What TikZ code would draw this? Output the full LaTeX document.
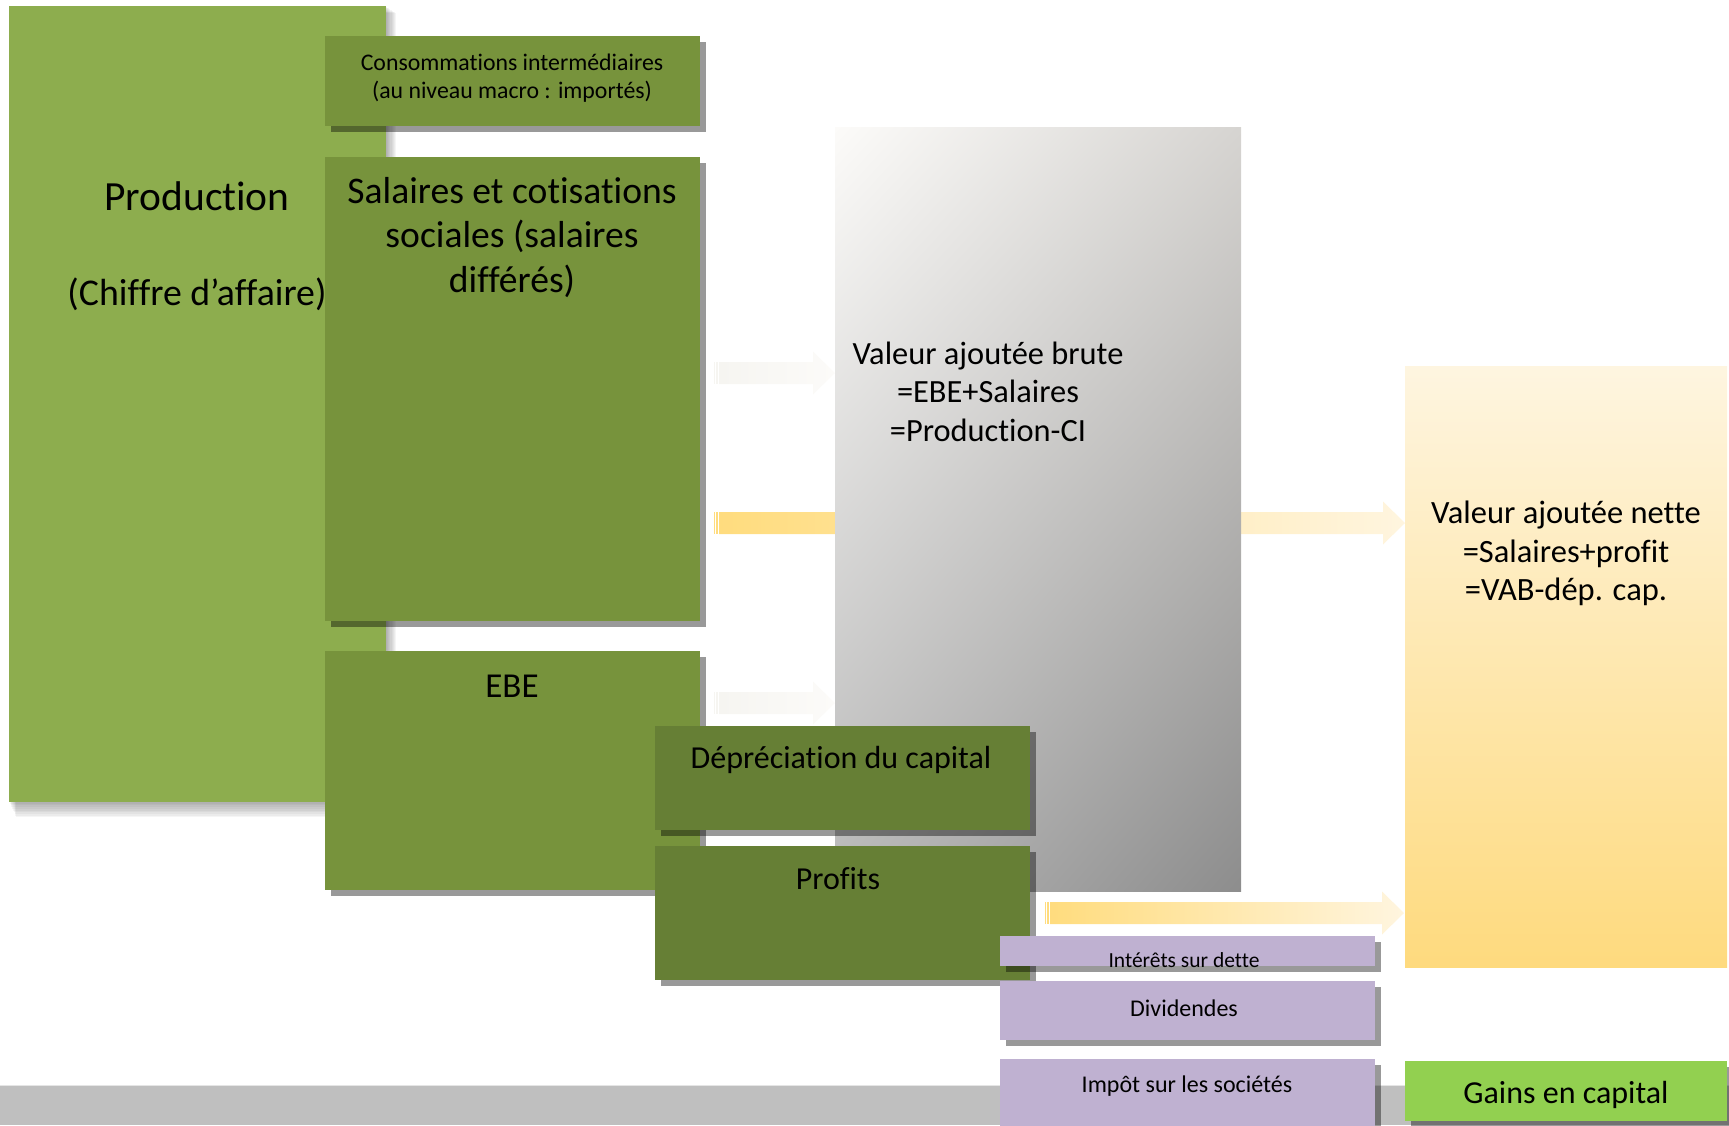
\documentclass[tikz,border=0pt]{standalone}
\usepackage{fontspec}
\setmainfont{Carlito}[Ligatures=NoCommon]
\usetikzlibrary{shadows,calc,shadings}
\definecolor{prodg}{HTML}{8DAD4E}
\definecolor{midg}{HTML}{77933C}
\definecolor{darkg}{HTML}{667F35}
\definecolor{lilac}{HTML}{BFB1D1}
\definecolor{gainsg}{HTML}{92D050}
\definecolor{barg}{HTML}{BFBFBF}
\definecolor{yelA}{HTML}{FFDC7E}
\definecolor{yelB}{HTML}{FFF5DF}
\definecolor{ghostA}{HTML}{F6F5F1}
\definecolor{ghostB}{HTML}{FCFBF9}
\definecolor{vanTop}{HTML}{FEF5E0}
\definecolor{vanBot}{HTML}{FEDA7E}
\definecolor{vabUL}{HTML}{FCFBF9}
\definecolor{vabUR}{HTML}{D6D4D1}
\definecolor{vabLL}{HTML}{B8B8B8}
\definecolor{vabLR}{HTML}{8D8D8D}

\tikzset{
  blk/.style={rectangle, inner sep=0pt, outer sep=0pt, anchor=north west, draw=none},
  shad/.style={drop shadow={shadow xshift=6pt, shadow yshift=-6pt, fill=black, opacity=.4}},
  lbl/.style={align=center, inner sep=0pt, text=black},
}
% box: name, x1, y1, x2, y2, options
\newcommand\mkbox[6]{%
  \node[blk, #6, minimum width=#4-#2, minimum height=#5-#3] (#1) at (#2,#3) {};
}
% block arrow: start coord, tip coord, shading options, stripe colour
\newcommand\blockarr[4]{%
  \fill[#4] ($(#1)+(0,-11)$) rectangle ($(#1)+(1.4,11)$);
  \fill[#4] ($(#1)+(2.4,-11)$) rectangle ($(#1)+(3.8,11)$);
  \shade[#3] ($(#1)+(5,-11)$) -- ($(#2)+(-22,-11)$) -- ($(#2)+(-22,-21.5)$) -- (#2)
     -- ($(#2)+(-22,21.5)$) -- ($(#2)+(-22,11)$) -- ($(#1)+(5,11)$) -- cycle;
}

\begin{document}
\begin{tikzpicture}[x=1pt,y=-1pt]
\useasboundingbox (0,0) rectangle (1729,1125);

% bottom band
\fill[barg] (0,1085) rectangle (1729,1125);
\draw[barg!40!white, line width=1.2pt] (0,1085.6) -- (1729,1085.6);

% Production with soft shadow
\foreach \i in {1,...,9}
  \fill[black, opacity=.04] (9+\i*0.8,6+\i*0.8) rectangle (386+\i*1.1,802+\i*1.7);
\mkbox{prod}{9}{6}{386}{802}{fill=prodg}

% second column
\mkbox{ci}{325}{36}{700}{126}{fill=midg, shad}
\mkbox{sal}{325}{157}{700}{621}{fill=midg, shad}
\mkbox{ebe}{325}{651}{700}{890}{fill=midg, shad}

% arrows into VAB (drawn before the VAB box)
\coordinate (a1s) at (714,373);
\coordinate (a1e) at (835,373);
\coordinate (a2s) at (714,523);
\coordinate (a2e) at (1405,523);
\coordinate (a4s) at (714,703);
\coordinate (a4e) at (835,703);
\blockarr{a1s}{a1e}{left color=ghostA, right color=ghostB}{ghostA}
\blockarr{a4s}{a4e}{left color=ghostA, right color=ghostB}{ghostA}
\blockarr{a2s}{a2e}{left color=yelA, right color=yelB}{yelA}

% VAB
\mkbox{vab}{835}{127}{1241}{891}{shading=bilinear interpolation, upper left=vabUL, upper right=vabUR, lower left=vabLL, lower right=vabLR}

% third column
\mkbox{dep}{655}{726}{1030}{830}{fill=darkg, shad}
\mkbox{prof}{655}{846}{1030}{980}{fill=darkg, shad}

% arrow from profits to VAN
\coordinate (a5s) at (1045,913);
\coordinate (a5e) at (1404,913);
\blockarr{a5s}{a5e}{left color=yelA, right color=yelB}{yelA}

% VAN
\mkbox{van}{1405}{366}{1727}{967}{top color=vanTop, bottom color=vanBot}

% purple boxes
\mkbox{int}{1000}{936}{1375}{966}{fill=lilac, shad}
\mkbox{div}{1000}{981}{1375}{1040}{fill=lilac, shad}
\mkbox{imp}{1000}{1059}{1375}{1126}{fill=lilac, shad}

% gains
\mkbox{gain}{1405}{1061}{1727}{1121}{fill=gainsg, shad}

% texts
\node[lbl, font=\fontsize{41.5}{50}\selectfont] (prodT) at (197,196) {Production};
\node[lbl, font=\fontsize{37.8}{45}\selectfont] (prodT2) at (197,294) {(Chiffre d’affaire)};
\node[lbl, font=\fontsize{23.8}{28.6}\selectfont] (ciT) at (512,78) {Consommations intermédiaires\\(au niveau macro : importés)};
\node[lbl, font=\fontsize{37.6}{44.8}\selectfont] (salT) at (512,237.5) {Salaires et cotisations\\sociales (salaires\\différés)};
\node[lbl, font=\fontsize{35}{40}\selectfont] (ebeT) at (512,686) {EBE};
\node[lbl, font=\fontsize{32}{38.5}\selectfont] (depT) at (841,760) {Dépréciation du capital};
\node[lbl, font=\fontsize{32}{38.5}\selectfont] (profT) at (838,879) {Profits};
\node[lbl, font=\fontsize{32.4}{38.5}\selectfont] (vabT) at (988,391.5) {Valeur ajoutée brute\\=EBE+Salaires\\=Production-CI};
\node[lbl, font=\fontsize{32.5}{38.5}\selectfont] (vanT) at (1566,553.5) {Valeur ajoutée nette\\=Salaires+profit\\=VAB-dép. cap.};
\node[lbl, font=\fontsize{21.5}{26}\selectfont] (intT) at (1184,960) {Intérêts sur dette};
\node[lbl, font=\fontsize{24}{28}\selectfont] (divT) at (1184,1008) {Dividendes};
\node[lbl, font=\fontsize{24}{28}\selectfont] (impT) at (1187,1086) {Impôt sur les sociétés};
\node[lbl, font=\fontsize{32}{38.5}\selectfont] (gainT) at (1566,1095) {Gains en capital};
\end{tikzpicture}
\end{document}
